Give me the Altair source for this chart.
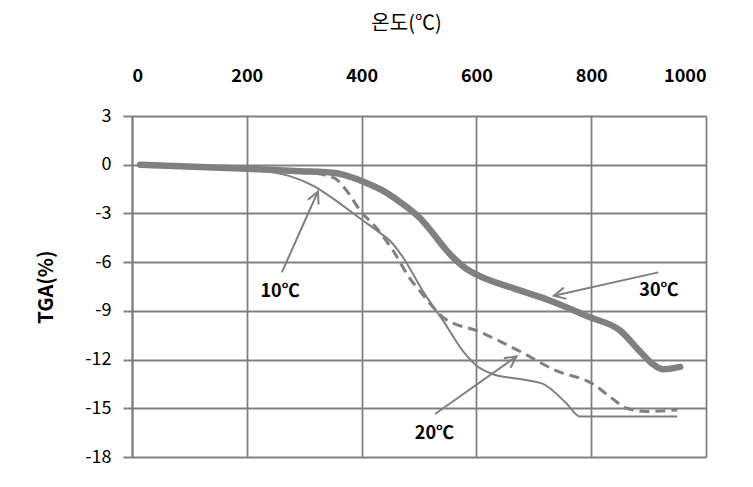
import math
import altair as alt
import pandas as pd

# ---- data ----
x_10 = [14, 193, 275, 316, 351, 397, 432, 450, 472, 507, 542, 577, 601, 629, 676, 716, 757, 780, 810, 950]
y_10 = [0, -0.25, -0.7, -1.3, -2.1, -3.3, -4.2, -4.7, -5.7, -7.8, -9.6, -11.5, -12.4, -12.9, -13.2, -13.5, -14.7, -15.5, -15.5, -15.5]

x_20 = [14, 200, 300, 351, 374, 397, 426, 455, 484, 502, 542, 606, 676, 740, 803, 833, 862, 897, 950]
y_20 = [0, -0.25, -0.45, -0.8, -1.6, -2.8, -3.9, -5.3, -7.0, -7.8, -9.4, -10.3, -11.5, -12.7, -13.5, -14.3, -15.0, -15.2, -15.1]

x_30 = [14, 200, 293, 350, 385, 400, 437, 467, 502, 525, 545, 562, 582, 605, 664, 723, 798, 850, 885, 908, 925, 955]
y_30 = [0, -0.25, -0.4, -0.5, -0.8, -1.0, -1.6, -2.3, -3.3, -4.25, -5.15, -5.8, -6.4, -6.85, -7.6, -8.3, -9.4, -10.2, -11.5, -12.3, -12.6, -12.45]

x_ticks = [0, 200, 400, 600, 800, 1000]
y_ticks = [-18, -15, -12, -9, -6, -3, 0, 3]

note_text = ["10℃", "20℃", "30℃"]
note_x = [258, 527, 918]
note_y = [-7.85, -16.6, -7.8]
arrow_x0 = [261, 528, 917]
arrow_y0 = [-6.63, -15.35, -6.63]
arrow_x1 = [324, 670, 735]
arrow_y1 = [-1.65, -11.8, -8.07]

# ---- layout ----
W, H = 574, 341
GRAY = "#808080"
FONT = "Noto Sans CJK KR"

xs = alt.Scale(domain=[0, 1000], nice=False)
ys = alt.Scale(domain=[-18, 3], nice=False)

d10 = pd.DataFrame({"x": x_10, "y": y_10})
d20 = pd.DataFrame({"x": x_20, "y": y_20})
d30 = pd.DataFrame({"x": x_30, "y": y_30})

sx = W / 1000.0
sy = H / 21.0
angles = []
for a, b, c, d in zip(arrow_x0, arrow_y0, arrow_x1, arrow_y1):
    dx = (c - a) * sx
    dy = -(d - b) * sy
    angles.append(math.degrees(math.atan2(dx, -dy)) % 360)

notes = pd.DataFrame({"t": note_text, "x": note_x, "y": note_y})
arrows = pd.DataFrame({"x0": arrow_x0, "y0": arrow_y0, "x1": arrow_x1, "y1": arrow_y1, "ang": angles})

x_enc = alt.X("x:Q", scale=xs, axis=alt.Axis(
    orient="top", values=x_ticks, title="온도(℃)", grid=True, gridColor=GRAY, gridWidth=1.8,
    labelExpr="'' + datum.value",
    domain=False, ticks=False, tickSize=0, labelPadding=31, labelFontSize=18, labelFontWeight="bold",
    labelFont=FONT, labelColor="#000", titleFont=FONT, titleFontSize=20, titleFontWeight="normal",
    titleColor="#000", titleX=274, titleY=-93, titleAlign="center", titleBaseline="middle"))
y_enc = alt.Y("y:Q", scale=ys, axis=alt.Axis(
    values=y_ticks, title="TGA(%)", grid=True, gridColor=GRAY, gridWidth=1.8,
    labelExpr="'' + datum.value",
    domain=True, domainColor=GRAY, domainWidth=2, ticks=True, tickColor=GRAY, tickWidth=2,
    tickSize=9, labelPadding=12, labelFontSize=18, labelFont=FONT, labelColor="#000",
    titleFont=FONT, titleFontSize=20, titleFontWeight="bold", titleColor="#000",
    titleX=-86, titleY=170.5, titleAngle=270, titleAlign="center", titleBaseline="middle"))

l20 = alt.Chart(d20).mark_line(color=GRAY, strokeWidth=3, strokeDash=[10, 6], interpolate="monotone").encode(x=x_enc, y=y_enc)
l10 = alt.Chart(d10).mark_line(color=GRAY, strokeWidth=2, interpolate="monotone").encode(x="x:Q", y="y:Q")
l30 = alt.Chart(d30).mark_line(color=GRAY, strokeWidth=6.5, interpolate="monotone", strokeCap="round").encode(x="x:Q", y="y:Q")

arr = alt.Chart(arrows).mark_rule(color=GRAY, strokeWidth=2).encode(
    x="x0:Q", y="y0:Q", x2="x1:Q", y2="y1:Q")
heads = alt.Chart(arrows).mark_point(
    shape="M-0.5,1 L0,0 L0.5,1", filled=False, color=GRAY, strokeWidth=2, size=529, opacity=1
).encode(x="x1:Q", y="y1:Q", angle=alt.Angle("ang:Q", scale=None))

txt = alt.Chart(notes).mark_text(font=FONT, fontSize=18, fontWeight="bold", color="#000").encode(
    x="x:Q", y="y:Q", text="t:N")

chart = alt.layer(l20, l10, l30, arr, heads, txt).properties(
    width=W, height=H,
    padding={"left": 132, "top": 116, "right": 47, "bottom": 30},
    autosize="none",
).configure_view(stroke=None).configure(background="white")

chart.save("out.html", embed_options={"renderer": "svg", "actions": False})
